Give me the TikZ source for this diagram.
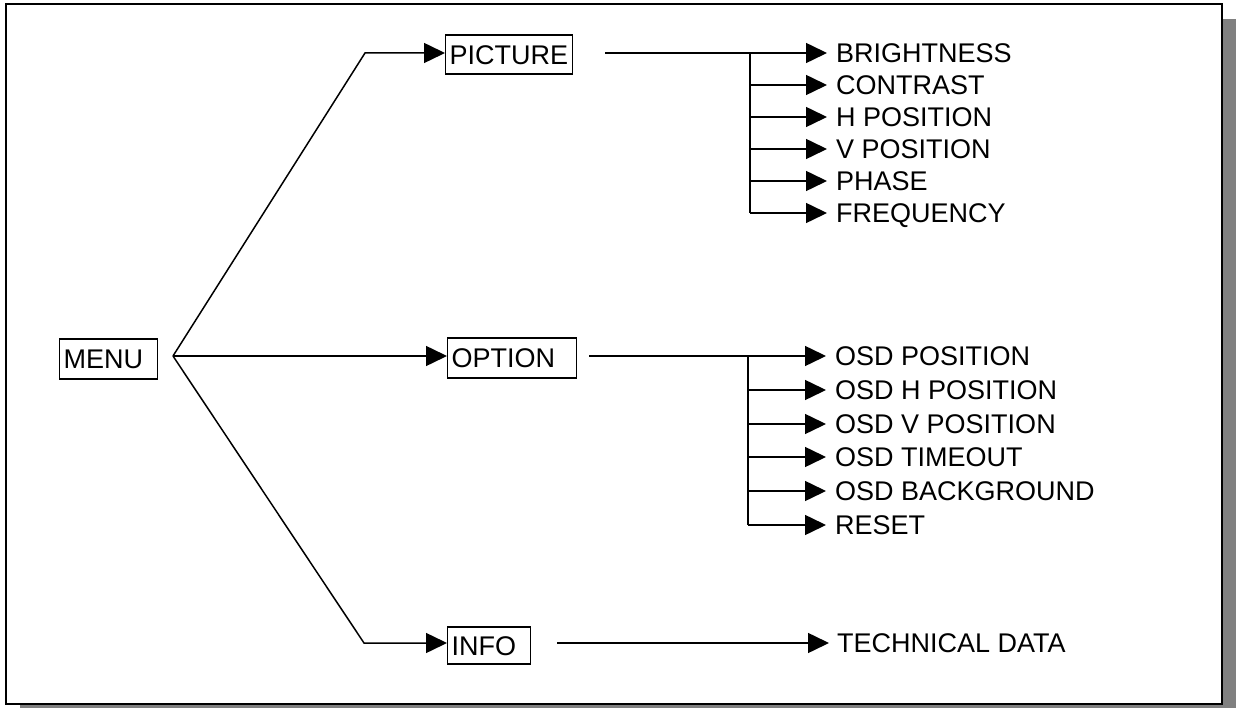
\documentclass[tikz,border=0pt]{standalone}
\usepackage{fontspec}
\setmainfont{Liberation Sans}
\usetikzlibrary{arrows.meta,calc}
\begin{document}
\begin{tikzpicture}[x=1pt,y=-1pt,
  lbl/.style={font=\fontsize{27}{30}\selectfont, text height=19.5pt, text depth=0pt},
  box/.style={lbl, draw, line width=1.3pt, rectangle, inner xsep=4pt, inner ysep=0pt, align=left, anchor=west},
  item/.style={lbl, anchor=west, inner xsep=9pt, inner ysep=0pt},
  conn/.style={line width=1.5pt},
  arr/.style={conn, -{Triangle[length=21pt,width=20pt]}}]
\useasboundingbox (0,0) rectangle (1236,708);
% shadow and frame
\fill[black!50] (20,19) rectangle (1240,712);
\draw[line width=2pt, fill=white] (6,4) rectangle (1222,704);

% main boxes
\node[box, text width=90pt, minimum height=40pt] (menu) at (59,359) {MENU};
\node[box, text width=119pt, minimum height=39pt] (pic) at (445,54.5) {PICTURE};
\node[box, text width=121pt, minimum height=40pt] (opt) at (447,358) {OPTION};
\node[box, text width=75pt, minimum height=37pt] (info) at (447,645.5) {INFO};

\coordinate (br) at (173,356);
\coordinate (c1) at (365,53);
\coordinate (c3) at (364,643);
\draw[arr] (br) -- (c1) -- (c1 -| pic.west);
\draw[arr] (br) -- (br -| opt.west);
\draw[arr] (br) -- (c3) -- (c3 -| info.west);

% PICTURE submenu
\coordinate (ps) at (605,53);
\coordinate (pb) at (750,53);
\node[item] (p1) at (827,53) {BRIGHTNESS};
\node[item] (p2) at (827,85) {CONTRAST};
\node[item] (p3) at (827,117) {H POSITION};
\node[item] (p4) at (827,149) {V POSITION};
\node[item] (p5) at (827,181) {PHASE};
\node[item] (p6) at (827,213) {FREQUENCY};
\draw[arr] (ps) -- (p1.west);
\draw[conn] (pb) -- (pb |- p6.west);
\foreach \n in {p2,p3,p4,p5,p6} \draw[arr] (pb |- \n.west) -- (\n.west);

% OPTION submenu
\coordinate (os) at (589,356);
\coordinate (ob) at (748,356);
\node[item] (o1) at (826,356) {OSD POSITION};
\node[item] (o2) at (826,390) {OSD H POSITION};
\node[item] (o3) at (826,424) {OSD V POSITION};
\node[item] (o4) at (826,457) {OSD TIMEOUT};
\node[item] (o5) at (826,491) {OSD BACKGROUND};
\node[item] (o6) at (826,525) {RESET};
\draw[arr] (os) -- (o1.west);
\draw[conn] (ob) -- (ob |- o6.west);
\foreach \n in {o2,o3,o4,o5,o6} \draw[arr] (ob |- \n.west) -- (\n.west);

% INFO submenu
\coordinate (is) at (557,643);
\node[item, inner xsep=8pt] (t1) at (829,643) {TECHNICAL DATA};
\draw[arr] (is) -- (t1.west);
\end{tikzpicture}
\end{document}
